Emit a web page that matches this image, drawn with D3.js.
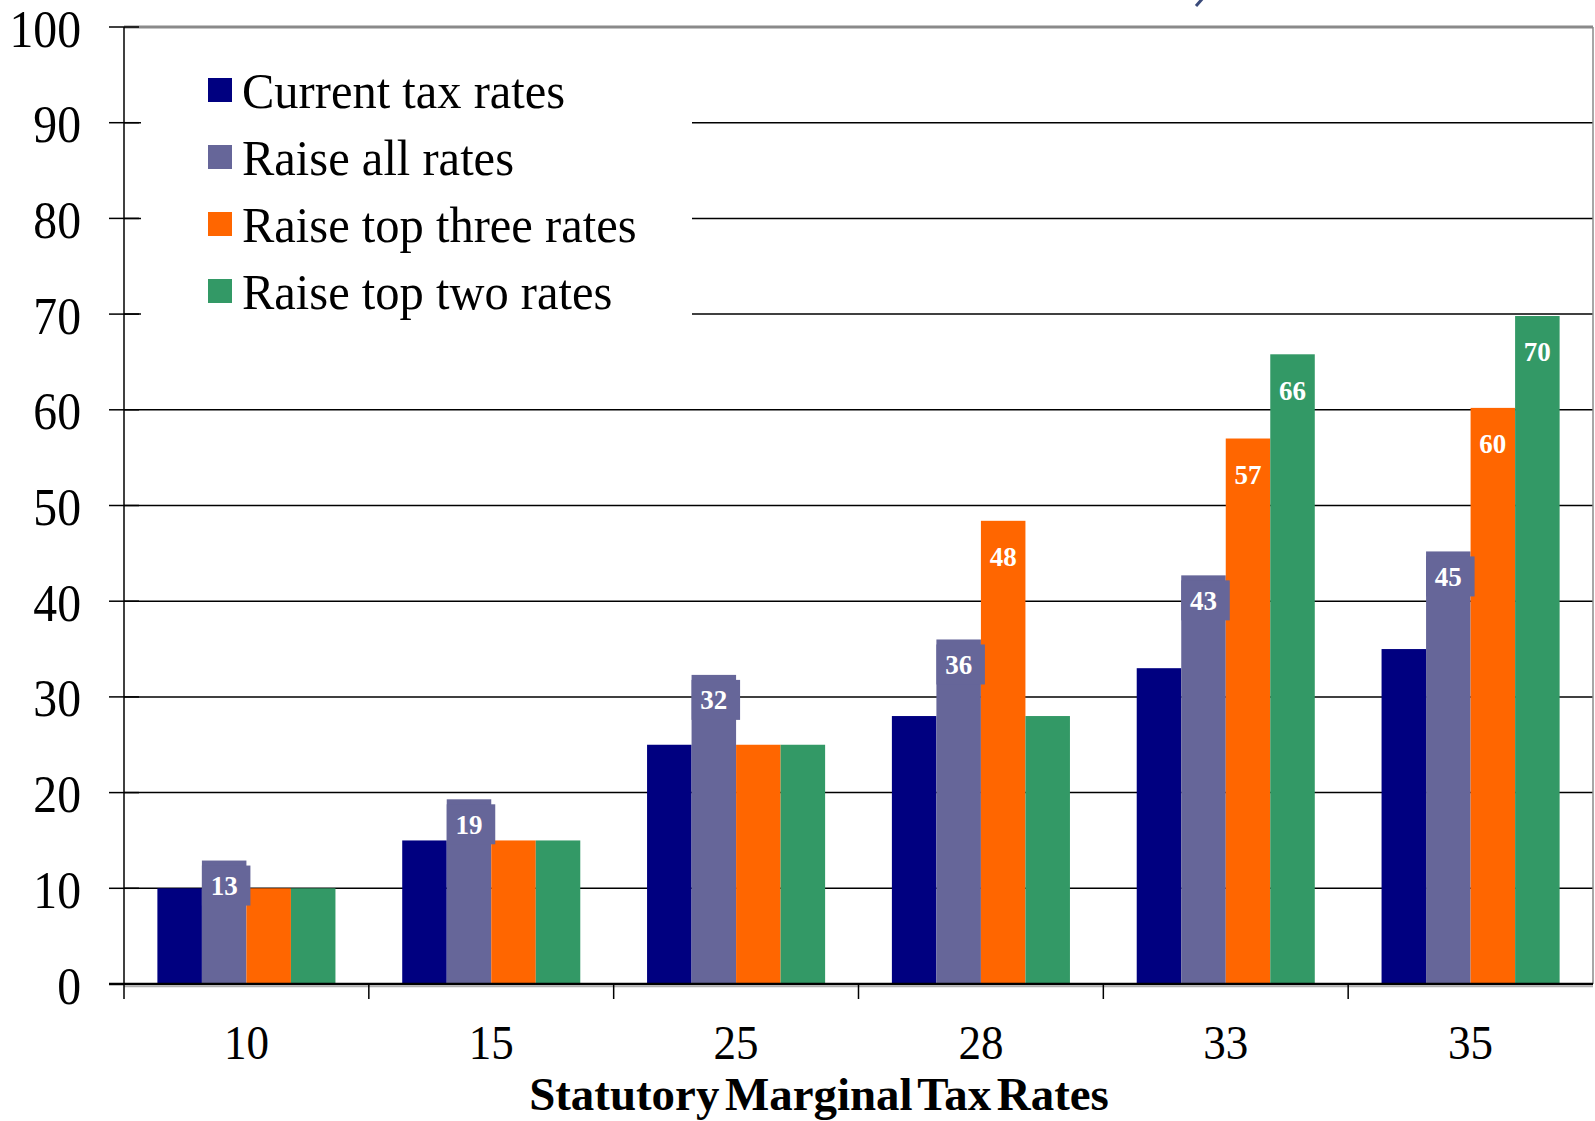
<!DOCTYPE html>
<html>
<head>
<meta charset="utf-8">
<script src="https://cdn.jsdelivr.net/npm/d3@7"></script>
<style>
  body { margin: 0; background: #fff; }
  svg text { font-family: "Liberation Serif", "Times New Roman", serif; }
</style>
</head>
<body>
<svg width="1595" height="1121"></svg>
<script>
// data
var categories = ["10", "15", "25", "28", "33", "35"];
var seriesNames = ["Current tax rates", "Raise all rates", "Raise top three rates", "Raise top two rates"];
var currentRates = [10, 15, 25, 28, 33, 35];
var raiseAll = [12.9, 19.3, 32.3, 36.0, 42.7, 45.2];
var raiseTopThree = [10, 15, 25, 48.4, 57.0, 60.2];
var raiseTopTwo = [10, 15, 25, 28, 65.8, 69.8];
var yTicks = [0, 10, 20, 30, 40, 50, 60, 70, 80, 90, 100];
var xTitle = "Statutory Marginal Tax Rates";

var seriesValues = [currentRates, raiseAll, raiseTopThree, raiseTopTwo];
var colors = ["#000080", "#666699", "#ff6600", "#339966"];
var fmt = d3.format(".0f");

var svg = d3.select("svg"),
    plot = {left: 124, right: 1593, top: 27, bottom: 984};

var x0 = d3.scaleBand().domain(categories).range([plot.left, plot.right]);
var x1 = d3.scaleBand().domain(seriesNames).range([0, x0.bandwidth()]).paddingOuter(0.75);
var y = d3.scaleLinear().domain([0, 100]).range([plot.bottom, plot.top]);

// gridlines
svg.append("g").selectAll("line")
    .data(yTicks.filter(function(d) { return d > 0 && d < 100; }))
  .enter().append("line")
    .attr("x1", plot.left).attr("x2", plot.right)
    .attr("y1", function(d) { return y(d); }).attr("y2", function(d) { return y(d); })
    .attr("stroke", "#000").attr("stroke-width", 1.5);

// frame top + right
svg.append("line").attr("x1", plot.left).attr("x2", plot.right)
    .attr("y1", y(100)).attr("y2", y(100)).attr("stroke", "#8a8a8a").attr("stroke-width", 3);
svg.append("line").attr("x1", plot.right).attr("x2", plot.right)
    .attr("y1", y(100)).attr("y2", plot.bottom).attr("stroke", "#8a8a8a").attr("stroke-width", 1.5);

// legend box covers the gridlines
svg.append("rect").attr("x", 141).attr("y", 40).attr("width", 551).attr("height", 280).attr("fill", "#fff");

// bars
var rows = categories.map(function(c, i) {
  return seriesNames.map(function(s, j) {
    return {cat: c, series: s, j: j, value: seriesValues[j][i], base: currentRates[i]};
  });
});

var groups = svg.append("g").selectAll("g")
    .data(rows)
  .enter().append("g")
    .attr("transform", function(d) { return "translate(" + x0(d[0].cat) + ",0)"; });

groups.selectAll("rect")
    .data(function(d) { return d; })
  .enter().append("rect")
    .attr("x", function(d) { return x1(d.series); })
    .attr("y", function(d) { return y(d.value); })
    .attr("width", x1.bandwidth())
    .attr("height", function(d) { return plot.bottom - y(d.value); })
    .attr("fill", function(d) { return colors[d.j]; });

// value labels, only where the bar differs from current rates
var labels = groups.selectAll("g.lbl")
    .data(function(d) { return d.filter(function(e) { return e.j > 0 && e.value !== e.base; }); })
  .enter().append("g")
    .attr("class", "lbl")
    .attr("transform", function(d) {
      var off = d.j === 1 ? 25 : 36;
      return "translate(" + (x1(d.series) + x1.bandwidth() / 2) + "," + (y(d.value) + off) + ")";
    });

labels.filter(function(d) { return d.j === 1; }).append("rect")
    .attr("x", -x1.bandwidth() / 2).attr("y", -20)
    .attr("width", x1.bandwidth() + 4).attr("height", 40)
    .attr("fill", colors[1]);

labels.append("text")
    .attr("text-anchor", "middle")
    .attr("dy", "0.35em")
    .attr("font-size", 27)
    .attr("font-weight", "bold")
    .attr("fill", "#fff")
    .text(function(d) { return fmt(d.value); });

// y axis
svg.append("line").attr("x1", plot.left).attr("x2", plot.left)
    .attr("y1", y(100)).attr("y2", plot.bottom).attr("stroke", "#000").attr("stroke-width", 1.5);
svg.append("g").selectAll("line")
    .data(yTicks)
  .enter().append("line")
    .attr("x1", plot.left - 15).attr("x2", function(d) { return d > 0 ? plot.left + 15 : plot.left; })
    .attr("y1", function(d) { return y(d); }).attr("y2", function(d) { return y(d); })
    .attr("stroke", "#000").attr("stroke-width", 1.5);
svg.append("g").selectAll("text")
    .data(yTicks)
  .enter().append("text")
    .attr("transform", function(d) { return "translate(81," + (y(d) + 1) + ") scale(0.9,1)"; })
    .attr("text-anchor", "end")
    .attr("dy", "0.35em")
    .attr("font-size", 53)
    .text(function(d) { return d; });

// x axis
svg.append("line").attr("x1", plot.left - 15).attr("x2", plot.right)
    .attr("y1", plot.bottom).attr("y2", plot.bottom).attr("stroke", "#000").attr("stroke-width", 2.5);
svg.append("line").attr("x1", plot.left).attr("x2", plot.right)
    .attr("y1", plot.bottom + 2.5).attr("y2", plot.bottom + 2.5).attr("stroke", "#b0b0b0").attr("stroke-width", 1.5);
svg.append("g").selectAll("line")
    .data(categories)
  .enter().append("line")
    .attr("x1", function(d) { return x0(d); }).attr("x2", function(d) { return x0(d); })
    .attr("y1", plot.bottom).attr("y2", plot.bottom + 15)
    .attr("stroke", "#000").attr("stroke-width", 1.5);
svg.append("g").selectAll("text")
    .data(categories)
  .enter().append("text")
    .attr("transform", function(d) { return "translate(" + (x0(d) + x0.bandwidth() / 2) + ",1042) scale(0.92,1)"; })
    .attr("text-anchor", "middle")
    .attr("dy", "0.35em")
    .attr("font-size", 49)
    .text(function(d) { return d; });

svg.append("text")
    .attr("transform", "translate(819,1110) scale(1.02,1)")
    .attr("text-anchor", "middle")
    .attr("font-size", 46)
    .attr("font-weight", "bold")
    .attr("word-spacing", -6)
    .text(xTitle);

// legend
var legend = svg.append("g").selectAll("g")
    .data(seriesNames)
  .enter().append("g")
    .attr("transform", function(d, i) { return "translate(208," + (90 + i * 67) + ")"; });
legend.append("rect")
    .attr("x", 0).attr("y", -12).attr("width", 24).attr("height", 24)
    .attr("fill", function(d, i) { return colors[i]; });
legend.append("text")
    .attr("transform", "translate(34,0) scale(0.97,1)")
    .attr("dy", "0.35em")
    .attr("font-size", 50)
    .text(function(d) { return d; });

// stray stroke cut off at the top edge
svg.append("path").attr("d", "M1196,6 L1203,-2").attr("stroke", "#3a4a7a").attr("stroke-width", 3);
</script>
</body>
</html>
